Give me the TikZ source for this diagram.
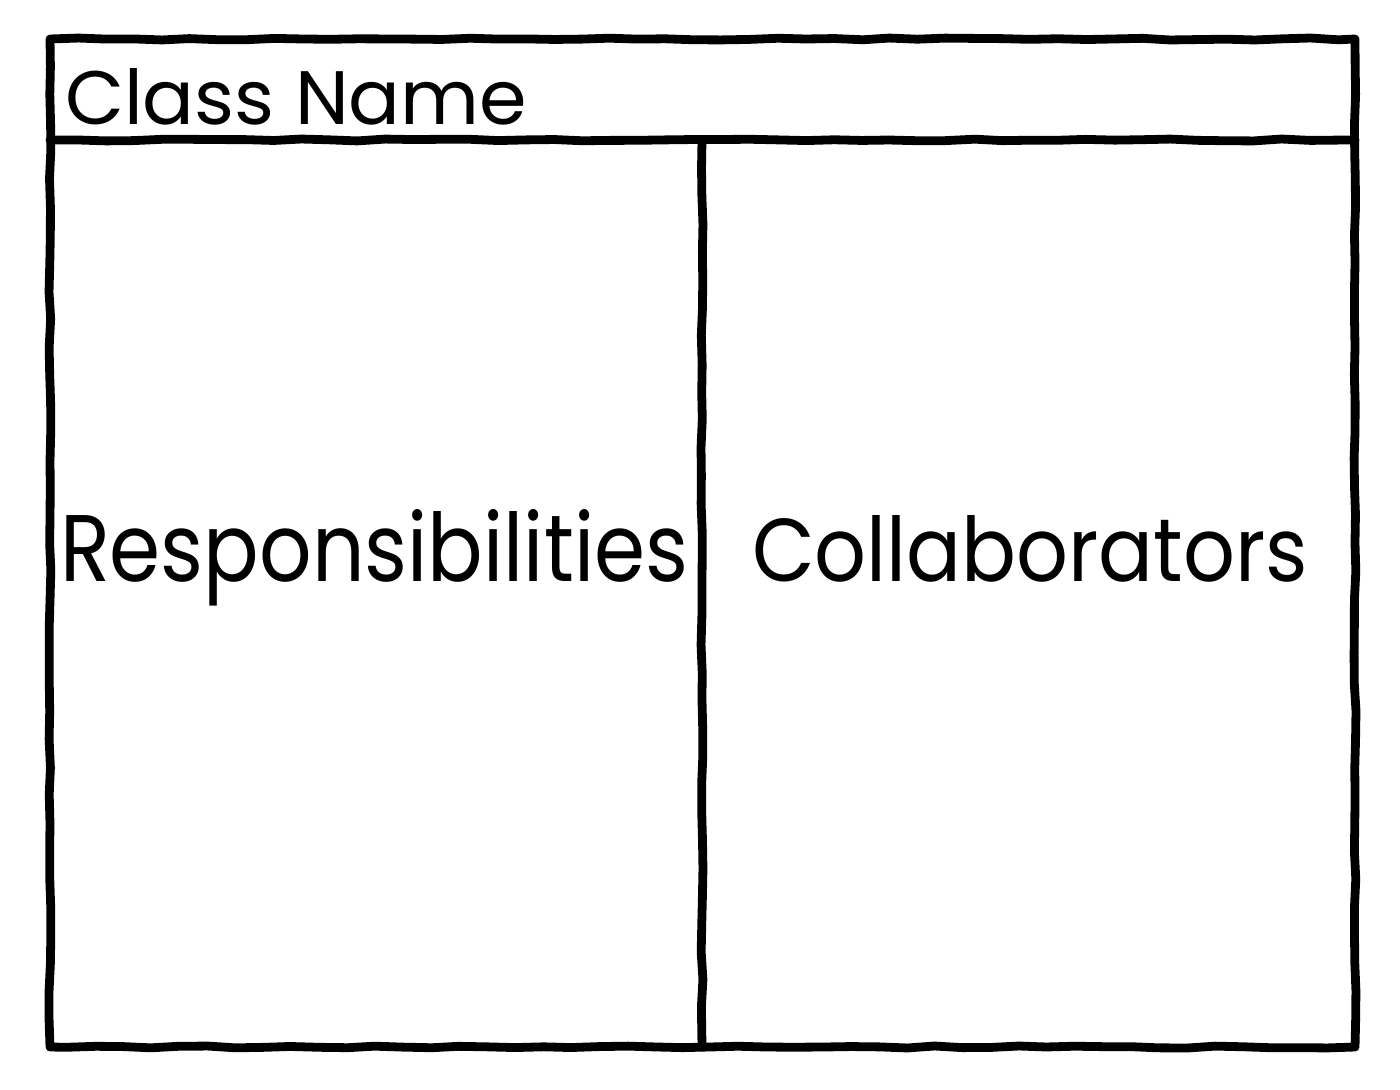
\documentclass[tikz,border=0pt]{standalone}
\usepackage{fontspec}
\setmainfont{Poppins}
\newfontfamily\handfont{Poppins}
\usetikzlibrary{decorations.pathmorphing}
\tikzset{
  sketch/.style={line width=4.4pt, line cap=round, line join=round,
    decorate, decoration={random steps, segment length=14pt, amplitude=0.5pt}},
  label/.style={inner sep=0pt, outer sep=0pt, font=\handfont}
}
\begin{document}
\begin{tikzpicture}[x=0.5pt,y=-0.5pt]
\useasboundingbox (0,0) rectangle (1400,1090);
\fill[white] (0,0) rectangle (1400,1090);
\coordinate (tl) at (50,39);
\coordinate (tr) at (1355,39);
\coordinate (br) at (1355,1047);
\coordinate (bl) at (50,1047);
\coordinate (hl) at (50,140);
\coordinate (hr) at (1355,140);
\coordinate (dt) at (702,140);
\coordinate (db) at (702,1047);
\draw[sketch] (tl) -- (tr) -- (br) -- (bl) -- cycle;
\draw[sketch] (hl) -- (hr);
\draw[sketch] (dt) -- (db);
\node[label, anchor=base west] (classname) at (65,125)
  {\resizebox{231pt}{28pt}{Class Name}};
\node[label, anchor=base west] (resp) at (60,581)
  {\resizebox{314pt}{36pt}{Responsibilities}};
\node[label, anchor=base west] (collab) at (752,581)
  {\resizebox{278pt}{33pt}{Collaborators}};
\end{tikzpicture}
\end{document}
